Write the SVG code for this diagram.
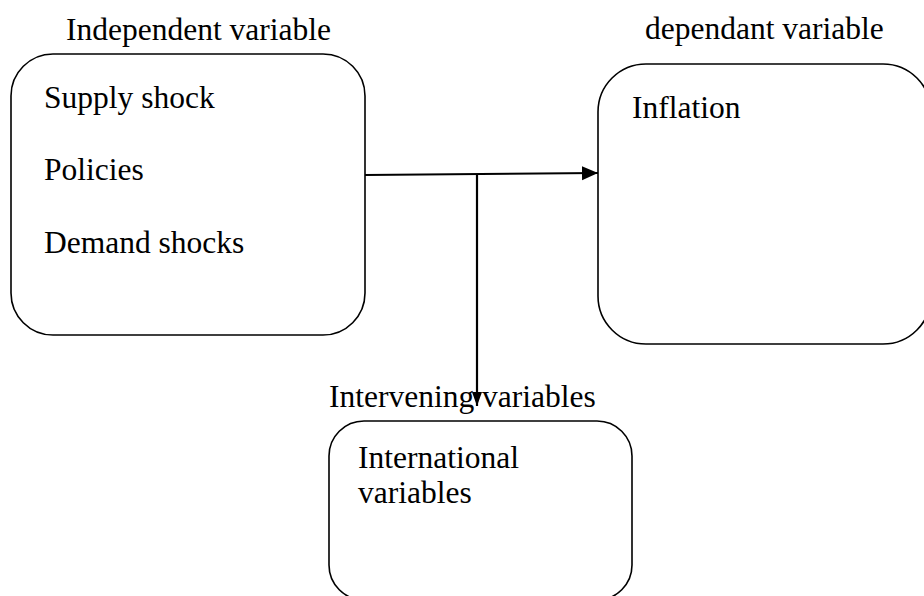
<svg xmlns="http://www.w3.org/2000/svg" width="924" height="596" viewBox="0 0 924 596">
<style>
.box{fill:#fff;stroke:#000;stroke-width:1.6}
.t{font-family:'Liberation Serif','Times New Roman',Times,serif;font-size:31.5px;fill:#000}
.c{stroke:#000;stroke-width:2.2;fill:none}
</style>
<defs>
<marker id="ah" markerUnits="userSpaceOnUse" markerWidth="16" markerHeight="16" viewBox="0 0 16 16" refX="16" refY="8" orient="auto">
<path d="M0,1 L16,8 L0,15 Z" fill="#000"/>
</marker>
<marker id="ahs" markerUnits="userSpaceOnUse" markerWidth="14" markerHeight="12" viewBox="0 0 14 12" refX="14" refY="6" orient="auto">
<path d="M0,1 L14,6 L0,11 Z" fill="#000"/>
</marker>
</defs>
<rect width="924" height="596" fill="#fff"/>
<g id="independent">
<text class="t" font-family="Liberation Serif, serif" x="66" y="40">Independent variable</text>
<rect class="box" x="11" y="54" width="354" height="281" rx="42" ry="42"/>
<text class="t" font-family="Liberation Serif, serif" x="44" y="108">Supply shock</text>
<text class="t" font-family="Liberation Serif, serif" x="44" y="180">Policies</text>
<text class="t" font-family="Liberation Serif, serif" x="44" y="253">Demand shocks</text>
</g>
<g id="dependent">
<text class="t" font-family="Liberation Serif, serif" x="645" y="39">dependant variable</text>
<rect class="box" x="598" y="64" width="333" height="280" rx="48" ry="48"/>
<text class="t" font-family="Liberation Serif, serif" x="632" y="118">Inflation</text>
</g>
<g id="intervening">
<rect class="box" x="329" y="421" width="303" height="179" rx="35" ry="35"/>
<text class="t" font-family="Liberation Serif, serif" x="358" y="468">International</text>
<text class="t" font-family="Liberation Serif, serif" x="358" y="503">variables</text>
</g>
<g id="connectors">
<line class="c" x1="365" y1="175" x2="598" y2="173" marker-end="url(#ah)"/>
<line class="c" x1="477" y1="174" x2="477" y2="406" marker-end="url(#ahs)"/>
</g>
<g id="label-intervening">
<text class="t" font-family="Liberation Serif, serif" x="329" y="407">Intervening variables</text>
</g>
</svg>
